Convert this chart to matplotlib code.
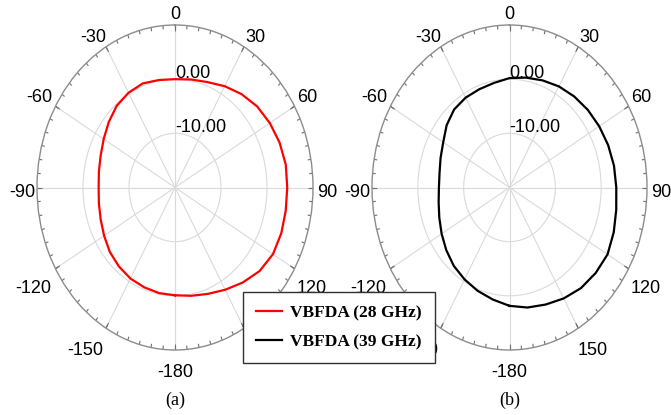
import numpy as np
import matplotlib.pyplot as plt

# measured radiation pattern (dB) vs angle (deg)
angles = [-180, -170, -160, -150, -140, -130, -120, -110, -100, -90,
          -80, -70, -60, -50, -40, -30, -20, -10, 0, 10, 20, 30, 40, 50,
          60, 70, 80, 90, 100, 110, 120, 130, 140, 150, 160, 170, 180]
gain_28 = [-0.1, -0.2, -0.4, -0.6, -1.0, -1.5, -2.2, -2.8, -3.2, -3.4,
           -3.2, -2.8, -2.1, -1.2, -0.3, 0.2, 0.45, 0.15, 0.0, 0.25, 0.7, 1.6, 2.5, 3.3,
           3.8, 4.2, 4.45, 4.4, 4.45, 4.6, 4.6, 4.0, 2.9, 1.8, 0.9, 0.3, -0.1]
gain_39 = [1.85, 1.0, 0.3, -0.4, -1.1, -2.0, -2.9, -3.7, -4.3, -4.6,
           -4.5, -4.0, -3.3, -2.1, -1.2, -0.85, -0.7, -0.4, 0.2, 0.6, 1.05, 1.55, 1.95, 2.3,
           2.6, 2.9, 3.15, 3.3, 3.65, 4.2, 4.7, 4.55, 4.25, 3.65, 3.0, 2.5, 1.85]

theta_ticks = [0, 30, 60, 90, 120, 150, 180, -150, -120, -90, -60, -30]
theta_labels = ['0', '30', '60', '90', '120', '150', '-180',
                '-150', '-120', '-90', '-60', '-30']
ring_values = [-10, 0]
ring_labels = ['-10.00', '0.00']
series_names = ['VBFDA (28 GHz)', 'VBFDA (39 GHz)']

plt.rcParams['font.family'] = 'Liberation Sans'

fig = plt.figure(figsize=(6.71, 4.15), dpi=100)

# pixel offset of each angle label from the outer ring
label_off = {0: (0, 10.5), 30: (11, 9), 60: (12.5, 8.5), 90: (14, -4.5),
             120: (17.5, -19.5), 150: (14, -22), 180: (0, -22.5),
             -150: (-21, -22), -120: (-22.5, -19.5), -90: (-15, -4.5),
             -60: (-16.5, 8.5), -30: (-13, 9)}


def pattern(rect, gain, color, caption):
    ax = fig.add_axes(rect, projection='polar')
    ax.set_aspect('auto')
    ax.set_theta_zero_location('N')
    ax.set_theta_direction(-1)
    ax.set_ylim(-20, 10)

    ax.set_xticks(np.radians(np.arange(0, 360, 30)))
    ax.set_xticklabels([])
    ax.set_yticks(ring_values)
    ax.set_yticklabels([])
    ax.tick_params(length=0)
    ax.grid(True, color='#dadada', lw=0.8)
    ax.spines['polar'].set_color('#8c8c8c')
    ax.spines['polar'].set_linewidth(1.0)

    # little inward ticks round the rim
    minor = np.radians(np.arange(0, 360, 5))
    major = np.radians(np.arange(0, 360, 30))
    ax.vlines(minor, 9.3, 10, color='#707070', lw=0.8)
    ax.vlines(major, 8.9, 10, color='#707070', lw=0.8)

    line, = ax.plot(np.radians(angles), gain, color=color, lw=1.6)

    for a, lab in zip(theta_ticks, theta_labels):
        ax.annotate(lab, xy=(np.radians(a), 10), xytext=label_off[a],
                    textcoords='offset pixels', ha='center', va='center',
                    fontsize=13, annotation_clip=False)
    for r, lab in zip(ring_values, ring_labels):
        ax.text(0, r + 0.2, lab, ha='left', va='baseline', fontsize=13)

    x0 = rect[0] + rect[2] / 2
    fig.text(x0, 1 - 400 / 415, caption, ha='center', va='center',
             family='Liberation Serif', fontsize=13)
    return line


l1 = pattern([37 / 671, 65 / 415, 276 / 671, 325 / 415], gain_28, 'red', '(a)')
l2 = pattern([372 / 671, 65 / 415, 275 / 671, 325 / 415], gain_39, 'black', '(b)')

fig.legend([l1, l2], series_names, loc='upper left',
           bbox_to_anchor=(243 / 671, 1 - 292 / 415), borderaxespad=0,
           prop={'family': 'Liberation Serif', 'weight': 'bold', 'size': 12.5},
           frameon=True, fancybox=False, edgecolor='#303030', framealpha=1,
           handlelength=1.5, handletextpad=0.45, labelspacing=0.75,
           borderpad=0.75)

fig.savefig('out.png', dpi=100)
